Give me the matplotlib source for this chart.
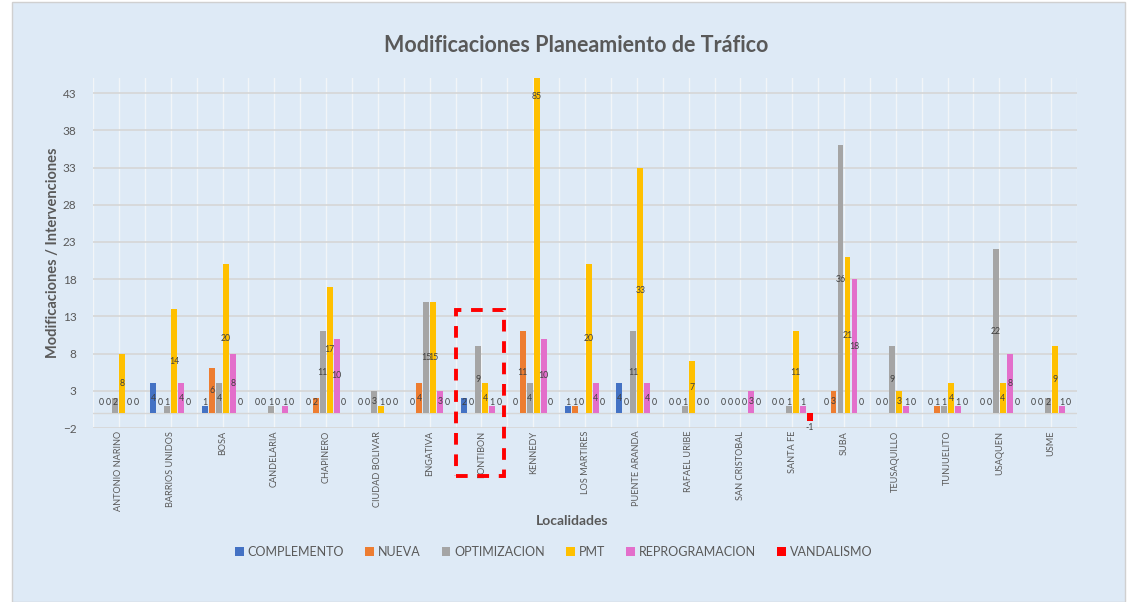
import matplotlib
matplotlib.use('Agg')
import matplotlib.pyplot as plt
from matplotlib.patches import Rectangle
import numpy as np

plt.rcParams['font.family'] = ['Lato', 'DejaVu Sans']

# datos
localidades = ['ANTONIO NARINO', 'BARRIOS UNIDOS', 'BOSA', 'CANDELARIA', 'CHAPINERO',
               'CIUDAD BOLIVAR', 'ENGATIVA', 'FONTIBON', 'KENNEDY', 'LOS MARTIRES',
               'PUENTE ARANDA', 'RAFAEL URIBE', 'SAN CRISTOBAL', 'SANTA FE', 'SUBA',
               'TEUSAQUILLO', 'TUNJUELITO', 'USAQUEN', 'USME']
complemento = [0, 4, 1, 0, 0, 0, 0, 2, 0, 1, 4, 0, 0, 0, 0, 0, 0, 0, 0]
nueva = [0, 0, 6, 0, 2, 0, 4, 0, 11, 1, 0, 0, 0, 0, 3, 0, 1, 0, 0]
optimizacion = [2, 1, 4, 1, 11, 3, 15, 9, 4, 0, 11, 1, 0, 1, 36, 9, 1, 22, 2]
pmt = [8, 14, 20, 0, 17, 1, 15, 4, 85, 20, 33, 7, 0, 11, 21, 3, 4, 4, 9]
reprogramacion = [0, 4, 8, 1, 10, 0, 3, 1, 10, 4, 4, 0, 3, 1, 18, 1, 1, 8, 1]
vandalismo = [0, 0, 0, 0, 0, 0, 0, 0, 0, 0, 0, 0, 0, -1, 0, 0, 0, 0, 0]

series = [('COMPLEMENTO', complemento, '#4472C4'),
          ('NUEVA', nueva, '#ED7D31'),
          ('OPTIMIZACION', optimizacion, '#A5A5A5'),
          ('PMT', pmt, '#FFC000'),
          ('REPROGRAMACION', reprogramacion, '#E36FCB'),
          ('VANDALISMO', vandalismo, '#FF0000')]

bg = '#DEEAF6'
gris = '#595959'
ymin, ymax = -2, 45

fig = plt.figure(figsize=(11.29, 6.02), dpi=100)
fig.patch.set_facecolor('white')
marco = Rectangle((12 / 1129, 0), 1113 / 1129, 600 / 602, transform=fig.transFigure,
                  facecolor=bg, edgecolor='#D0D0D0', lw=1, zorder=-10)
fig.patches.append(marco)

ax = fig.add_axes([0.0824, 0.289, 0.8716, 0.581])
ax.set_facecolor(bg)

x = np.arange(len(localidades))
pitch = 0.135
width = 0.115
for i, (nombre, vals, color) in enumerate(series):
    pos = x + (i - 2.5) * pitch
    ax.bar(pos, vals, width, color=color, label=nombre, zorder=3)
    for px, v in zip(pos, vals):
        if v < 0:
            ty = v - 0.9
        else:
            ty = min(max(v / 2, 1.4), 43.7)
        ax.text(px, ty, str(v), ha='center', va='center', fontsize=6.3,
                color='#404040', zorder=4)

ax.set_xlim(-0.5, len(localidades) - 0.5)
ax.set_ylim(ymin, ymax)
ax.set_yticks(np.arange(-2, 44, 5))
ax.set_xticks(x)
ax.set_xticks(np.arange(-0.5, len(localidades), 1), minor=True)
ax.set_xticklabels(localidades, rotation=90, fontsize=6.6, color=gris)
ax.tick_params(axis='y', labelsize=8.5, colors=gris, length=0, pad=12)
ax.tick_params(axis='x', which='both', length=0, pad=2)
ax.grid(axis='y', color='#D6D6D6', lw=1.2, zorder=0)
ax.grid(axis='x', which='both', color='#F2F5F8', lw=1, zorder=0)
ax.axhline(0, color='#D6D6D6', lw=1, zorder=2)
for s in ax.spines.values():
    s.set_visible(False)

ax.set_ylabel('Modificaciones / Intervenciones', fontsize=10.5, fontweight='bold', color=gris, labelpad=2)
ax.set_xlabel('Localidades', fontsize=10, fontweight='bold', color=gris, labelpad=3)
ax.xaxis.label.set_x(0.487)
fig.text(0.51, 0.925, 'Modificaciones Planeamiento de Tráfico', ha='center', va='center',
         fontsize=15.5, fontweight='bold', color=gris)

# recuadro rojo sobre FONTIBON
ax.add_patch(Rectangle((7 - 0.49, -8.5), 0.92, 22.3, fill=False, edgecolor='red', lw=2.8,
                       linestyle=(0, (3, 2.5)), clip_on=False, zorder=5))

leg = ax.legend(loc='center', bbox_to_anchor=(0.468, -0.355), ncol=6, frameon=False,
                fontsize=9, handlelength=0.7, handleheight=0.7, columnspacing=1.7,
                handletextpad=0.3)
for t in leg.get_texts():
    t.set_color(gris)

fig.savefig('out.png', dpi=100, facecolor=fig.get_facecolor())
